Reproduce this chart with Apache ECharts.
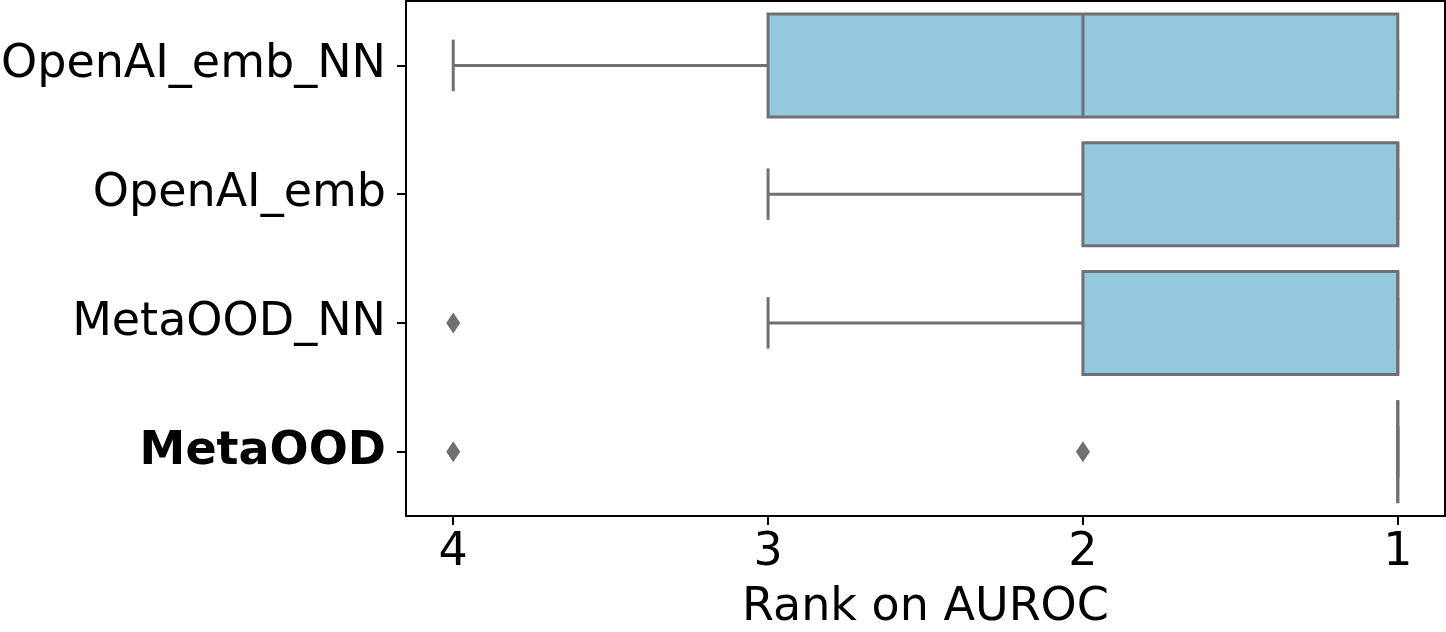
<!DOCTYPE html>
<html><head><meta charset="utf-8">
<script src="https://cdn.jsdelivr.net/npm/echarts@6/dist/echarts.min.js"></script>
<style>html,body{margin:0;padding:0;background:#fff}#c{width:1446px;height:632px}</style>
</head><body><div id="c"></div>
<script>
const categories = ['OpenAI_emb_NN', 'OpenAI_emb', 'MetaOOD_NN', 'MetaOOD'];
const whiskerLow = [4, 3, 3, 1];
const q1 = [3, 2, 2, 1];
const median = [2, 1, 1, 1];
const q3 = [1, 1, 1, 1];
const whiskerHigh = [1, 1, 1, 1];
const outlierRank = [4, 4, 2];
const outlierCat = ['MetaOOD_NN', 'MetaOOD', 'MetaOOD'];
const tickValues = [4, 3, 2, 1];

const EDGE = '#707070';
const FILL = '#93c8de';
const FONT = 'DejaVu Sans';

const boxData = categories.map((c, i) => [i, whiskerLow[i], q1[i], median[i], q3[i], whiskerHigh[i]]);
const outlierData = outlierRank.map((r, i) => [r, outlierCat[i]]);

function renderBox(params, api) {
  const ci = api.value(0);
  const wl = api.coord([api.value(1), ci]);
  const a = api.coord([api.value(2), ci]);
  const m = api.coord([api.value(3), ci]);
  const b = api.coord([api.value(4), ci]);
  const wh = api.coord([api.value(5), ci]);
  const band = api.size([0, 1])[1];
  const h = band * 0.8;
  const cy = a[1];
  const x0 = Math.min(a[0], b[0]), x1 = Math.max(a[0], b[0]);
  const ls = { stroke: EDGE, lineWidth: 3, fill: null };
  return {
    type: 'group',
    children: [
      { type: 'line', shape: { x1: wl[0], y1: cy, x2: a[0], y2: cy }, style: ls },
      { type: 'line', shape: { x1: b[0], y1: cy, x2: wh[0], y2: cy }, style: ls },
      { type: 'line', shape: { x1: wl[0], y1: cy - h / 4, x2: wl[0], y2: cy + h / 4 }, style: ls },
      { type: 'line', shape: { x1: wh[0], y1: cy - h / 4, x2: wh[0], y2: cy + h / 4 }, style: ls },
      { type: 'rect', shape: { x: x0, y: cy - h / 2, width: x1 - x0, height: h }, style: { fill: FILL, stroke: EDGE, lineWidth: 3 } },
      { type: 'line', shape: { x1: m[0], y1: cy - h / 2, x2: m[0], y2: cy + h / 2 }, style: ls }
    ]
  };
}

const chart = echarts.init(document.getElementById('c'), null, { renderer: 'canvas' });
chart.setOption({
  animation: false,
  backgroundColor: '#fff',
  grid: { left: 406, right: 1, top: 1, bottom: 116, outerBoundsMode: 'none', containLabel: false,
          show: true, borderColor: '#000', borderWidth: 2, backgroundColor: 'transparent' },
  xAxis: {
    type: 'value', inverse: true, min: 0.85, max: 4.15,
    splitLine: { show: false },
    axisLine: { show: true, lineStyle: { color: '#000', width: 2 } },
    axisTick: { show: true, customValues: tickValues, length: 9, lineStyle: { color: '#000', width: 2 } },
    axisLabel: { customValues: tickValues, fontFamily: FONT, fontSize: 46, color: '#000', margin: 14 },
    name: 'Rank on AUROC', nameLocation: 'middle', nameGap: 69,
    nameTextStyle: { fontFamily: FONT, fontSize: 46, color: '#000' }
  },
  yAxis: {
    type: 'category', inverse: true, data: categories,
    axisLine: { show: true, lineStyle: { color: '#000', width: 2 } },
    axisTick: { show: true, alignWithLabel: true, length: 9, lineStyle: { color: '#000', width: 2 } },
    axisLabel: {
      fontFamily: FONT, fontSize: 46, color: '#000', margin: 20,
      formatter: v => v === 'MetaOOD' ? '{b|' + v + '}' : v,
      rich: { b: { fontFamily: FONT, fontSize: 46, fontWeight: 'bold', color: '#000' } }
    },
    splitLine: { show: false }
  },
  series: [
    { type: 'custom', renderItem: renderBox, data: boxData, encode: { x: [1, 2, 3, 4, 5], y: 0 }, z: 2 },
    { type: 'scatter', data: outlierData, symbol: 'diamond', symbolSize: [14, 21],
      itemStyle: { color: EDGE, opacity: 1 }, z: 3 }
  ]
});
</script></body></html>
